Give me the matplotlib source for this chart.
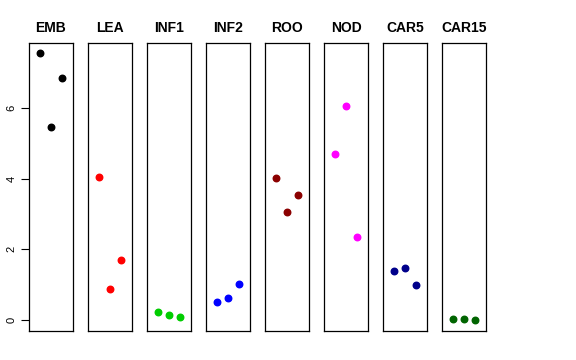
import matplotlib
matplotlib.use("Agg")
import matplotlib.pyplot as plt

# ───── DATA ─────
tissues = ["EMB", "LEA", "INF1", "INF2", "ROO", "NOD", "CAR5", "CAR15"]
colors = ["black", "red", "#00CD00", "blue", "#8B0000", "magenta", "#00008B", "#006400"]
reps = [1, 2, 3]
values = [
    [7.56, 5.46, 6.85],
    [4.05, 0.88, 1.70],
    [0.23, 0.14, 0.08],
    [0.51, 0.62, 1.02],
    [4.02, 3.06, 3.54],
    [4.70, 6.06, 2.35],
    [1.39, 1.47, 0.99],
    [0.03, 0.03, 0.00],
]

# ───── FIGURE ─────
W, H = 576, 360
fig = plt.figure(figsize=(W / 100, H / 100), dpi=100)
plt.rcParams["font.family"] = ["Liberation Sans", "DejaVu Sans"]

left0, step, pw = 29, 59, 44
top, bottom = 43, 331

for i, (name, col, vals) in enumerate(zip(tissues, colors, values)):
    ax = fig.add_axes([(left0 + i * step) / W, 1 - bottom / H, pw / W, (bottom - top) / H])
    ax.scatter(reps, vals, color=col, s=22, zorder=3)
    ax.set_xlim(0, 4)
    ax.set_ylim(-0.31, 7.84)
    ax.set_xticks([])
    ax.set_title(name, fontsize=10, fontweight="bold", pad=8)
    for sp in ax.spines.values():
        sp.set_linewidth(0.9)
    if i == 0:
        ax.set_yticks([0, 2, 4, 6])
        ax.tick_params(axis="y", length=6, labelsize=8, pad=3)
        for lab in ax.get_yticklabels():
            lab.set_rotation(90)
            lab.set_va("center")
    else:
        ax.set_yticks([])

fig.savefig("out.png", dpi=100)
